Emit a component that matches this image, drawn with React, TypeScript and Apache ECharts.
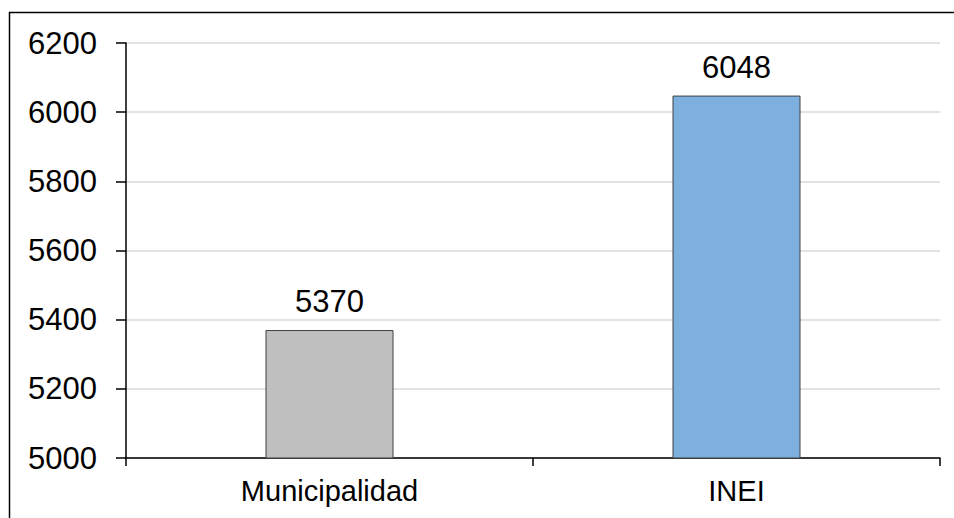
import React, { useEffect, useRef } from "react";
import * as echarts from "echarts";

const categories = ["Municipalidad", "INEI"];
const values = [5370, 6048];
const barColors = ["#BFBFBF", "#7DAFDF"];
const yMin = 5000;
const yMax = 6200;
const yInterval = 200;

export default function App() {
  const ref = useRef<HTMLDivElement>(null);
  useEffect(() => {
    if (!ref.current) return;
    const chart = echarts.init(ref.current, undefined, { renderer: "svg" });
    const font = "'Liberation Sans', Arial, sans-serif";
    chart.setOption({
      animation: false,
      backgroundColor: "#ffffff",
      grid: { left: 126, right: 14, top: 43, bottom: 60, containLabel: false },
      graphic: [
        {
          type: "rect",
          shape: { x: 9.5, y: 12.5, width: 1000, height: 600 },
          style: { fill: "none", stroke: "#000000", lineWidth: 1.5 },
          silent: true,
          z: 100,
        },
      ],
      xAxis: {
        type: "category",
        data: categories,
        axisLine: { show: true, lineStyle: { color: "#000000", width: 1.5 } },
        axisTick: { show: true, length: 8, lineStyle: { color: "#000000", width: 1.5 } },
        axisLabel: { color: "#000000", fontSize: 29, fontFamily: font, margin: 18 },
        splitLine: { show: false },
      },
      yAxis: {
        type: "value",
        min: yMin,
        max: yMax,
        interval: yInterval,
        axisLine: { show: true, lineStyle: { color: "#000000", width: 1.5 } },
        axisTick: { show: true, length: 10, lineStyle: { color: "#000000", width: 1.5 } },
        axisLabel: {
          color: "#000000",
          fontSize: 31,
          fontFamily: font,
          margin: 29,
          formatter: (v: number) => String(v),
        },
        splitLine: { show: true, lineStyle: { color: "#D9D9D9", width: 1.5 } },
      },
      series: [
        {
          type: "bar",
          barWidth: 128,
          data: values.map((v, i) => ({
            value: v,
            itemStyle: { color: barColors[i], borderColor: "#404040", borderWidth: 1 },
          })),
          label: {
            show: true,
            position: "top",
            distance: 13,
            color: "#000000",
            fontSize: 31,
            fontFamily: font,
          },
        },
      ],
    });
    return () => chart.dispose();
  }, []);
  return (
    <div
      ref={ref}
      style={{ position: "fixed", left: 0, top: 0, width: 954, height: 518 }}
    />
  );
}
